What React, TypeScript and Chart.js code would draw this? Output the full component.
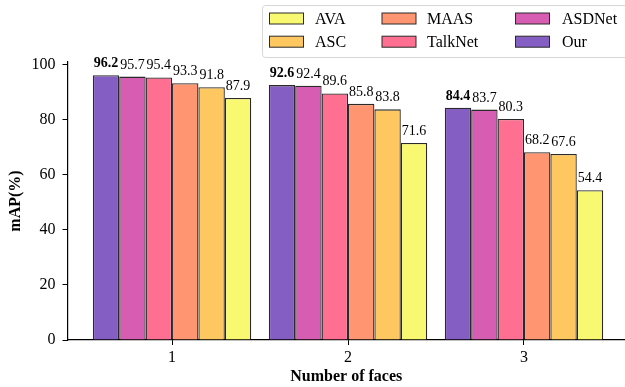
import React, { useEffect, useRef } from 'react';
import { Chart, registerables } from 'chart.js';

Chart.register(...registerables);

const categories = [1, 2, 3];
const seriesNames = ['Our', 'ASDNet', 'TalkNet', 'MAAS', 'ASC', 'AVA'];
const ourValues = [96.2, 92.6, 84.4];
const asdnetValues = [95.7, 92.4, 83.7];
const talknetValues = [95.4, 89.6, 80.3];
const maasValues = [93.3, 85.8, 68.2];
const ascValues = [91.8, 83.8, 67.6];
const avaValues = [87.9, 71.6, 54.4];
const seriesValues = [ourValues, asdnetValues, talknetValues, maasValues, ascValues, avaValues];
const seriesColors = ['#845EC2', '#D65DB1', '#FF6F91', '#FF9671', '#FFC75F', '#F9F871'];
const yTicks = [0, 20, 40, 60, 80, 100];
const legendOrder = ['AVA', 'ASC', 'MAAS', 'TalkNet', 'ASDNet', 'Our'];

const FONT = "'Liberation Serif', 'Times New Roman', serif";

const valueLabelPlugin = {
  id: 'valueLabels',
  afterDatasetsDraw(chart: any) {
    const ctx = chart.ctx;
    ctx.save();
    ctx.fillStyle = '#000';
    ctx.textAlign = 'center';
    ctx.textBaseline = 'alphabetic';
    chart.data.datasets.forEach((ds: any, di: number) => {
      const meta = chart.getDatasetMeta(di);
      ctx.font = `${di === 0 ? 'bold ' : ''}14px ${FONT}`;
      meta.data.forEach((el: any, i: number) => {
        const v = ds.data[i].y;
        ctx.fillText(v.toFixed(1), el.x, el.y - 8);
      });
    });
    ctx.restore();
  },
};

const legendPlugin = {
  id: 'gridLegend',
  afterDraw(chart: any) {
    const ctx = chart.ctx;
    ctx.save();
    const bx = 262.5, by = 5.5, bw = 380, bh = 52, r = 3;
    ctx.beginPath();
    ctx.moveTo(bx + r, by);
    ctx.lineTo(bx + bw - r, by);
    ctx.arcTo(bx + bw, by, bx + bw, by + r, r);
    ctx.lineTo(bx + bw, by + bh - r);
    ctx.arcTo(bx + bw, by + bh, bx + bw - r, by + bh, r);
    ctx.lineTo(bx + r, by + bh);
    ctx.arcTo(bx, by + bh, bx, by + bh - r, r);
    ctx.lineTo(bx, by + r);
    ctx.arcTo(bx, by, bx + r, by, r);
    ctx.closePath();
    ctx.fillStyle = 'rgba(255,255,255,0.8)';
    ctx.fill();
    ctx.strokeStyle = '#d6d6d6';
    ctx.lineWidth = 1;
    ctx.stroke();

    const swatchX = [269.5, 382, 515.5];
    const textX = [315, 427, 562];
    const rowY = [18.5, 41.7];
    ctx.font = `16px ${FONT}`;
    ctx.textBaseline = 'middle';
    ctx.textAlign = 'left';
    legendOrder.forEach((name, k) => {
      const col = Math.floor(k / 2);
      const row = k % 2;
      const di = chart.data.datasets.findIndex((d: any) => d.label === name);
      const ds = chart.data.datasets[di];
      ctx.fillStyle = ds.backgroundColor;
      ctx.fillRect(swatchX[col], rowY[row] - 5.5, 34, 11);
      ctx.strokeStyle = '#2a2a2a';
      ctx.lineWidth = 1;
      ctx.strokeRect(swatchX[col], rowY[row] - 5.5, 34, 11);
      ctx.fillStyle = '#000';
      ctx.fillText(name, textX[col], rowY[row] + 1);
    });
    ctx.restore();
  },
};

export default function App() {
  const canvasRef = useRef<HTMLCanvasElement>(null);

  useEffect(() => {
    document.body.style.margin = '0';
    const canvas = canvasRef.current;
    if (!canvas) return;
    const datasets = seriesNames.map((name, si) => ({
      label: name,
      data: categories.map((c, ci) => ({ x: c, y: seriesValues[si][ci] })),
      backgroundColor: seriesColors[si],
      borderColor: '#2a2a2a',
      borderWidth: 1.3,
      categoryPercentage: 0.9,
      barPercentage: 1.0,
    }));
    const chart = new Chart(canvas, {
      type: 'bar',
      data: { datasets },
      options: {
        responsive: false,
        animation: false,
        layout: { padding: { top: 62, right: 0, left: 0, bottom: 0 } },
        plugins: {
          legend: { display: false },
          tooltip: { enabled: false },
        },
        scales: {
          x: {
            type: 'linear',
            min: 0.406,
            max: 3.574,
            offset: false,
            afterBuildTicks: (scale: any) => {
              scale.ticks = categories.map((v) => ({ value: v }));
            },
            afterFit: (scale: any) => {
              scale.height = 47;
            },
            ticks: {
              color: '#000',
              font: { family: FONT, size: 16 },
              padding: 3,
              maxRotation: 0,
              autoSkip: false,
              callback: (v: any) => String(v),
            },
            grid: {
              display: true,
              offset: false,
              drawOnChartArea: false,
              drawTicks: true,
              tickLength: 5,
              color: '#000',
              lineWidth: 1,
            },
            border: { display: true, color: '#000', width: 1.2 },
            title: {
              display: true,
              text: 'Number of faces',
              color: '#000',
              font: { family: FONT, size: 16, weight: 'bold' },
              padding: { top: 0, bottom: 1 },
            },
          },
          y: {
            type: 'linear',
            min: 0,
            max: 101,
            afterBuildTicks: (scale: any) => {
              scale.ticks = yTicks.map((v) => ({ value: v }));
            },
            afterFit: (scale: any) => {
              scale.width = 67.5;
            },
            ticks: {
              color: '#000',
              font: { family: FONT, size: 16 },
              padding: 7,
              callback: (v: any) => String(v),
            },
            grid: {
              display: true,
              drawOnChartArea: false,
              drawTicks: true,
              tickLength: 5,
              color: '#000',
              lineWidth: 1,
            },
            border: { display: true, color: '#000', width: 1.2 },
            title: {
              display: true,
              text: 'mAP(%)',
              color: '#000',
              font: { family: FONT, size: 16, weight: 'bold' },
              padding: { top: 6, bottom: 0 },
            },
          },
        },
      },
      plugins: [valueLabelPlugin, legendPlugin],
    });
    return () => chart.destroy();
  }, []);

  return (
    <div style={{ width: 625, height: 387, position: 'relative' }}>
      <canvas ref={canvasRef} width={625} height={387} />
    </div>
  );
}
